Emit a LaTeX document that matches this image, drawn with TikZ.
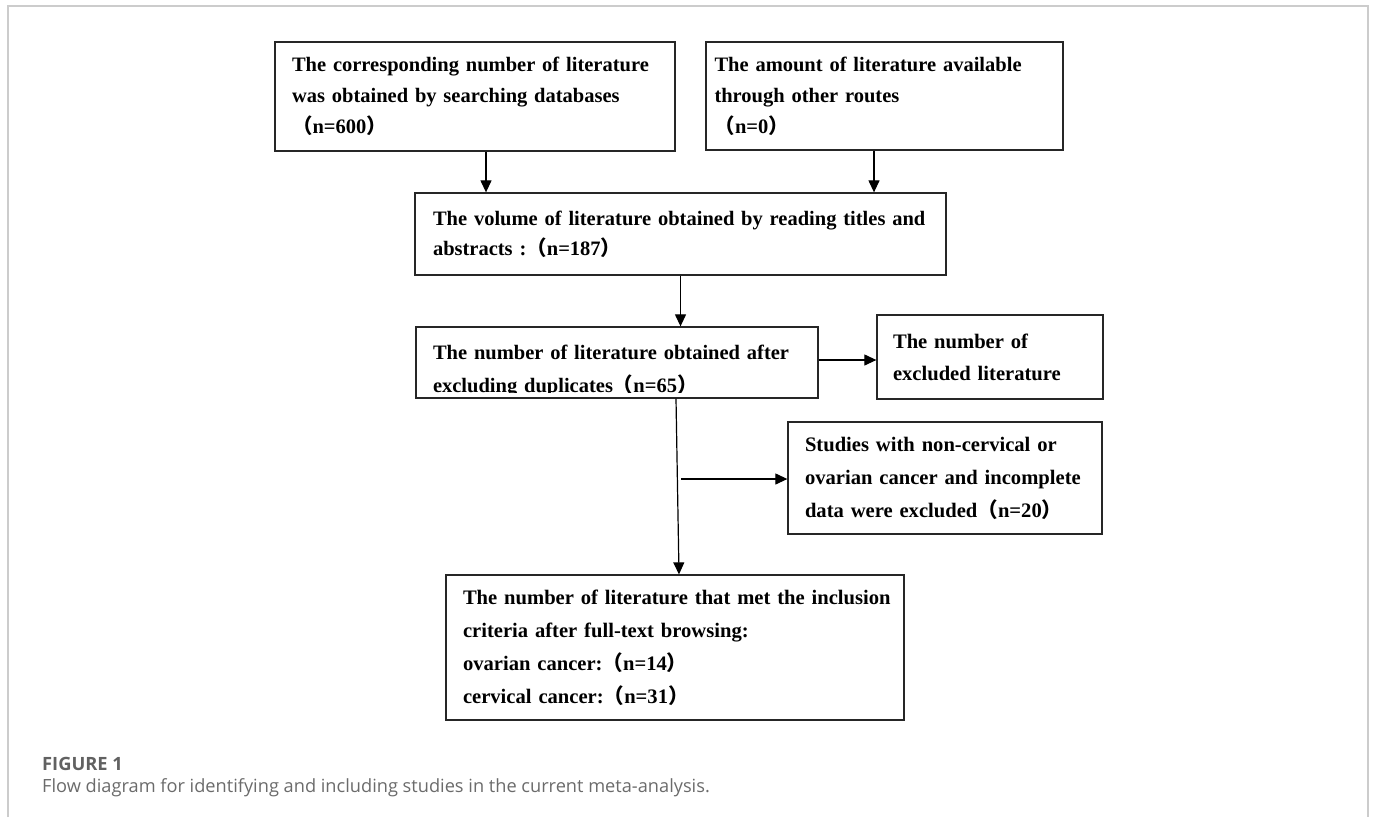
\documentclass[tikz,border=0pt]{standalone}
\usepackage{fontspec}
\setmainfont{Liberation Serif}
\newfontfamily\capfont{Open Sans}
\newfontfamily\cjkfont{Noto Sans CJK SC}
\usetikzlibrary{arrows.meta}
\newcommand{\lpar}{{\cjkfont （}}
\newcommand{\rpar}{{\cjkfont ）}}
\begin{document}
\begin{tikzpicture}[x=1pt,y=-1pt,
  box/.style={draw=black!85, line width=1.3pt, rectangle, inner ysep=0pt, align=left,
    font=\bfseries\fontsize{20.6pt}{33pt}\selectfont},
  topbox/.style={box, font=\bfseries\fontsize{20.5pt}{31pt}\selectfont},
  arr/.style={draw=black, line width=1.2pt, -{Triangle[length=12pt,width=11pt]}},
  frame/.style={draw=black!20, line width=1.5pt}
  ]
\useasboundingbox (0,0) rectangle (1375,817);
\draw[frame] (8,817) -- (8,6) -- (1368,6) -- (1368,817);

% boxes
\node[topbox, text width=366pt, inner xsep=17pt, minimum height=109pt] (b1) at (475,96.5)
  {\makebox[\linewidth][s]{The corresponding number of literature}\\
   \mbox{was obtained by searching databases}\\
   \mbox{\lpar n=600\rpar}};
\node[topbox, text width=340pt, inner xsep=8.5pt, minimum height=108pt] (b2) at (884.5,96)
  {\makebox[\linewidth][s]{The amount of literature available}\\
   \mbox{through other routes}\\
   \mbox{\lpar n=0\rpar}};
\node[box, font=\bfseries\fontsize{20.5pt}{30pt}\selectfont, text width=495pt, inner xsep=18pt, minimum height=82pt] (b3) at (680.5,234)
  {\mbox{The volume of literature obtained by reading titles and}\\
   \mbox{abstracts :\lpar n=187\rpar}};
\node[box, minimum width=402pt, minimum height=71pt, inner sep=0pt] (b4) at (617,362.5) {};
\begin{scope}
  \clip (416,327) rectangle (818,392);
  \node[font=\bfseries\fontsize{20.5pt}{33pt}\selectfont, align=left, text width=385pt, inner sep=0pt] (b4t) at (625.5,371)
    {\mbox{The number of literature obtained after}\\
     \mbox{excluding duplicates\lpar n=65\rpar}};
\end{scope}
\node[box, font=\bfseries\fontsize{20.6pt}{32pt}\selectfont, text width=194pt, inner xsep=16pt, minimum height=84pt] (b5) at (990,357)
  {\mbox{The number of}\\ \mbox{excluded literature}};
\node[box, text width=280pt, inner xsep=17pt, minimum height=112pt] (b6) at (945,478)
  {\mbox{Studies with non-cervical or}\\
   \mbox{ovarian cancer and incomplete}\\
   \mbox{data were excluded\lpar n=20\rpar}};
\node[box, text width=424pt, inner xsep=17pt, minimum height=145pt] (b7) at (675,647.5)
  {\mbox{The number of literature that met the inclusion}\\
   \mbox{criteria after full-text browsing:}\\
   \mbox{ovarian cancer:\lpar n=14\rpar}\\
   \mbox{cervical cancer:\lpar n=31\rpar}};

% connectors
\draw[arr] ([xshift=11pt]b1.south) -- ([xshift=11pt]b1.south |- b3.north);
\draw[arr] ([xshift=-10.5pt]b2.south) -- ([xshift=-10.5pt]b2.south |- b3.north);
\draw[arr] (b3.south) -- (b3.south |- b4.north);
\draw[arr] ([yshift=2.5pt]b4.east) -- ([yshift=2.5pt]b4.east -| b5.west);
\draw[arr] ([xshift=59pt]b4.south) -- ([xshift=4pt]b7.north);
\coordinate (br) at (681,479);
\draw[arr] (br) -- (br -| b6.west);

% caption
\node[anchor=base west, inner sep=0pt, text=black!62, font=\capfont\bfseries\fontsize{18.3pt}{22pt}\selectfont] (fig) at (42,770) {FIGURE 1};
\node[anchor=base west, inner sep=0pt, text=black!58, font=\capfont\fontsize{18.2pt}{22pt}\selectfont] (capt) at (42,792) {Flow diagram for identifying and including studies in the current meta-analysis.};
\end{tikzpicture}
\end{document}
